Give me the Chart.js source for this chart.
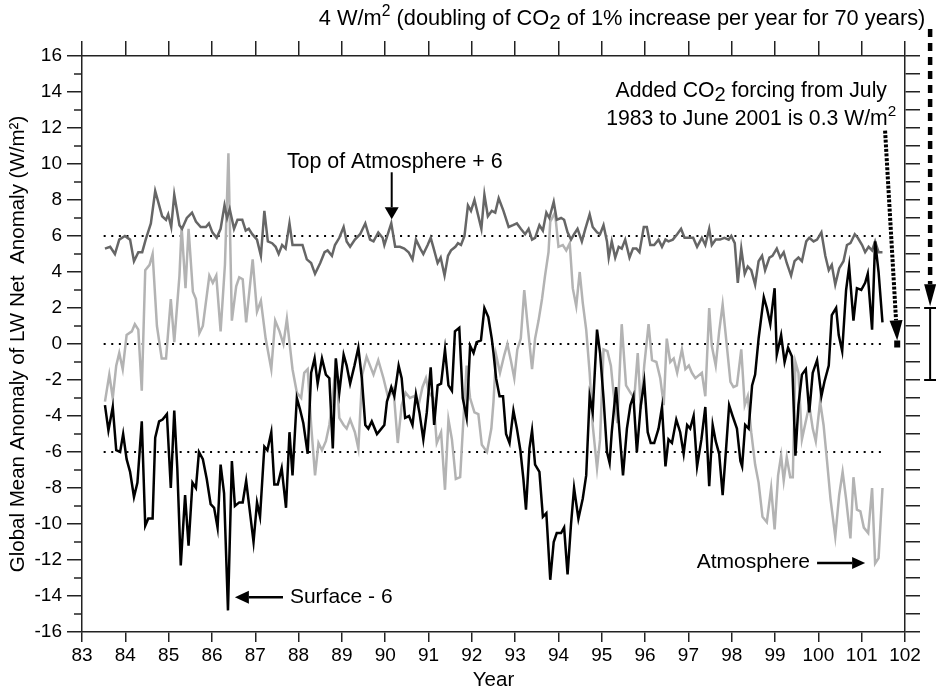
<!DOCTYPE html>
<html>
<head>
<meta charset="utf-8">
<script src="https://cdn.jsdelivr.net/npm/chart.js@4.4.1/dist/chart.umd.min.js"></script>
<style>
  html, body { margin: 0; padding: 0; background: #fff; }
  canvas { display: block; }
</style>
</head>
<body>
<canvas id="grafico" width="936" height="693"></canvas>
<script>
// Top of Atmosphere + 6 (gris oscuro)
const toaAnios = [
  83.53, 83.65, 83.76, 83.86, 83.99, 84.11, 84.20, 84.30, 84.39, 84.47,
  84.59, 84.69, 84.85, 84.94, 84.99, 85.06, 85.13, 85.25, 85.31, 85.42,
  85.54, 85.63, 85.74, 85.86, 85.93, 86.01, 86.11, 86.20, 86.29, 86.35,
  86.41, 86.51, 86.59, 86.70, 86.78, 86.85, 86.93, 87.04, 87.13, 87.21,
  87.29, 87.39, 87.47, 87.54, 87.62, 87.70, 87.79, 87.86, 87.98, 88.09,
  88.19, 88.29, 88.38, 88.50, 88.60, 88.67, 88.77, 88.84, 88.94, 89.04,
  89.11, 89.19, 89.30, 89.42, 89.54, 89.65, 89.73, 89.84, 89.94, 89.98,
  90.06, 90.14, 90.23, 90.34, 90.44, 90.54, 90.63, 90.71, 90.81, 90.88,
  90.98, 91.05, 91.12, 91.21, 91.28, 91.37, 91.45, 91.52, 91.62, 91.68,
  91.75, 91.83, 91.91, 91.98, 92.06, 92.14, 92.22, 92.29, 92.37, 92.46,
  92.54, 92.62, 92.73, 92.85, 92.95, 93.04, 93.13, 93.23, 93.31, 93.39,
  93.46, 93.56, 93.64, 93.72, 93.79, 93.89, 93.96, 94.06, 94.13, 94.21,
  94.29, 94.36, 94.44, 94.54, 94.62, 94.72, 94.79, 94.89, 94.96, 95.04,
  95.12, 95.16, 95.23, 95.31, 95.39, 95.46, 95.54, 95.64, 95.72, 95.80,
  95.87, 95.97, 96.04, 96.12, 96.21, 96.31, 96.39, 96.47, 96.54, 96.64,
  96.74, 96.83, 96.91, 97.01, 97.11, 97.20, 97.31, 97.39, 97.48, 97.54,
  97.63, 97.73, 97.83, 97.93, 97.99, 98.07, 98.14, 98.22, 98.30, 98.37,
  98.45, 98.54, 98.62, 98.70, 98.77, 98.87, 98.94, 99.04, 99.12, 99.20,
  99.27, 99.37, 99.45, 99.54, 99.62, 99.72, 99.79, 99.89, 99.97, 100.07,
  100.16, 100.24, 100.31, 100.39, 100.48, 100.58, 100.66, 100.74, 100.84, 100.91,
  101.01, 101.08, 101.16, 101.24, 101.31, 101.39, 101.48
];
const toaValores = [
  5.3, 5.4, 5.0, 5.8, 6.0, 5.8, 4.6, 5.1, 5.1, 5.8,
  6.7, 8.5, 7.1, 6.9, 7.2, 6.5, 8.3, 6.6, 6.4, 7.0,
  7.3, 6.8, 6.5, 6.5, 6.7, 6.2, 5.9, 6.4, 7.7, 7.0,
  7.5, 6.4, 6.9, 6.9, 6.3, 6.4, 6.1, 5.8, 4.9, 7.4,
  5.7, 5.6, 5.4, 5.0, 5.5, 5.3, 6.7, 5.5, 5.5, 5.5,
  4.7, 4.5, 3.9, 4.5, 5.1, 5.2, 4.9, 5.5, 5.9, 6.5,
  5.7, 5.4, 5.8, 6.1, 6.7, 5.8, 5.7, 6.2, 5.9, 5.5,
  6.1, 6.7, 5.4, 5.4, 5.3, 5.1, 4.7, 5.8, 5.3, 5.0,
  5.5, 5.9, 5.3, 4.5, 4.8, 3.8, 4.9, 5.2, 5.4, 5.6,
  5.5, 6.0, 7.7, 7.4, 8.0, 7.2, 6.4, 8.3, 7.1, 7.4,
  7.3, 8.1, 7.4, 6.5, 6.6, 6.7, 6.4, 6.1, 6.4, 5.8,
  5.9, 6.6, 6.3, 7.3, 7.0, 7.9, 6.9, 7.0, 6.9, 6.2,
  5.8, 6.1, 6.4, 5.7, 6.4, 7.2, 6.5, 6.2, 6.1, 6.6,
  5.7, 4.8, 5.7, 4.8, 5.4, 5.3, 5.8, 4.8, 5.3, 5.3,
  5.1, 6.5, 6.5, 5.5, 5.5, 5.8, 5.4, 5.8, 5.7, 5.8,
  6.1, 6.4, 5.9, 5.9, 5.9, 5.4, 5.9, 5.5, 6.4, 5.5,
  5.8, 5.8, 5.9, 5.8, 6.0, 5.6, 3.4, 5.3, 3.9, 4.3,
  4.1, 3.3, 4.6, 4.9, 4.1, 4.8, 4.9, 5.3, 4.8, 5.1,
  4.5, 3.8, 4.6, 4.8, 4.6, 5.7, 5.9, 5.7, 5.8, 6.2,
  4.9, 4.1, 4.4, 3.3, 4.2, 4.6, 5.5, 5.6, 6.1, 5.9,
  5.5, 5.1, 5.4, 5.2, 5.7, 5.1, 5.1
];

// Atmosphere (gris claro)
const atmAnios = [
  83.53, 83.63, 83.71, 83.79, 83.86, 83.94, 84.03, 84.15, 84.22, 84.30,
  84.38, 84.46, 84.56, 84.63, 84.73, 84.84, 84.94, 85.05, 85.13, 85.25,
  85.30, 85.39, 85.46, 85.56, 85.63, 85.71, 85.79, 85.94, 86.02, 86.10,
  86.20, 86.30, 86.38, 86.46, 86.56, 86.63, 86.71, 86.79, 86.94, 87.04,
  87.13, 87.24, 87.37, 87.46, 87.56, 87.65, 87.73, 87.86, 87.96, 88.06,
  88.13, 88.21, 88.29, 88.38, 88.46, 88.54, 88.63, 88.71, 88.79, 88.86,
  88.94, 89.04, 89.11, 89.19, 89.30, 89.38, 89.47, 89.57, 89.65, 89.73,
  89.84, 89.96, 90.07, 90.19, 90.29, 90.38, 90.47, 90.57, 90.67, 90.77,
  90.86, 90.94, 91.01, 91.11, 91.19, 91.29, 91.38, 91.46, 91.54, 91.63,
  91.73, 91.81, 91.88, 91.96, 92.06, 92.15, 92.23, 92.35, 92.45, 92.50,
  92.56, 92.65, 92.75, 92.82, 92.90, 92.98, 93.05, 93.13, 93.21, 93.29,
  93.39, 93.46, 93.54, 93.62, 93.69, 93.77, 93.81, 93.92, 94.00, 94.10,
  94.18, 94.26, 94.33, 94.41, 94.49, 94.56, 94.64, 94.72, 94.79, 94.89,
  94.96, 95.04, 95.13, 95.21, 95.27, 95.36, 95.46, 95.56, 95.66, 95.75,
  95.83, 95.90, 95.98, 96.08, 96.16, 96.26, 96.35, 96.43, 96.50, 96.58,
  96.66, 96.74, 96.85, 96.93, 97.01, 97.08, 97.16, 97.31, 97.39, 97.48,
  97.54, 97.63, 97.71, 97.79, 97.87, 97.97, 98.04, 98.12, 98.22, 98.30,
  98.37, 98.45, 98.54, 98.62, 98.71, 98.81, 98.91, 98.99, 99.07, 99.14,
  99.20, 99.27, 99.35, 99.41, 99.47, 99.54, 99.62, 99.70, 99.79, 99.87,
  99.94, 100.04, 100.12, 100.20, 100.28, 100.39, 100.48, 100.56, 100.64, 100.74,
  100.81, 100.89, 100.97, 101.05, 101.15, 101.24, 101.31, 101.39, 101.48
];
const atmValores = [
  -3.2, -1.7, -3.0, -1.2, -0.5, -1.4, 0.5, 0.7, 1.1, 0.8,
  -2.6, 4.1, 4.4, 5.0, 1.0, -0.8, -0.8, 2.5, 0.1, 3.8,
  6.5, 3.1, 6.4, 2.9, 2.5, 0.6, 1.0, 3.8, 3.4, 3.8,
  0.7, 4.4, 10.6, 1.3, 3.2, 3.7, 3.6, 1.2, 4.7, 1.8,
  2.4, 0.3, -1.4, 1.3, 0.7, 0.0, 1.4, -1.4, -2.7, -3.0,
  -1.6, -1.4, -4.5, -7.3, -5.5, -5.9, -5.4, -4.5, -3.0, -0.9,
  -4.1, -4.5, -4.7, -4.2, -4.9, -5.8, -1.7, -0.7, -1.2, -1.7,
  -0.9, -1.9, -3.0, -2.5, -5.5, -3.4, -2.7, -3.0, -2.9, -3.4,
  -2.4, -1.9, -2.7, -3.0, -5.5, -4.9, -8.1, -4.2, -5.3, -7.5,
  -7.4, -4.0, -1.2, -3.0, -3.8, -3.9, -5.6, -6.0, -4.7, -3.2,
  -0.6, -1.6, -0.6, 0.0, -0.9, -1.9, -0.3, 0.3, 3.0, 1.0,
  -1.4, 0.3, 1.3, 2.5, 3.8, 5.1, 6.8, 7.3, 5.4, 5.5,
  5.2, 5.6, 3.1, 2.1, 4.0, 2.3, 0.8, -1.6, -4.5, -6.9,
  -5.3, -0.3, -0.4, -1.2, -2.7, -4.4, 1.1, -2.3, -2.7, -3.0,
  -0.5, -3.6, -1.2, 1.1, -0.9, -1.0, -1.9, -3.4, 0.3, -1.0,
  -0.8, -1.6, -0.3, -1.4, -1.2, -1.6, -1.9, -1.6, -2.9, 2.0,
  -0.1, -1.2, 0.7, 2.2, 0.3, -2.1, -2.4, -2.3, -0.3, -3.4,
  -2.9, -4.9, -6.7, -7.7, -9.6, -9.9, -8.0, -10.3, -7.3, -6.2,
  -7.6, -6.3, -7.4, -7.4, -1.0, -1.6, -5.3, -4.4, -3.4, -4.7,
  -5.4, -3.2, -4.5, -6.5, -8.6, -10.7, -8.4, -7.1, -8.6, -10.8,
  -7.4, -9.2, -9.3, -10.2, -10.5, -8.0, -12.2, -11.9, -8.0
];

// Surface - 6 (negro)
const supAnios = [
  83.53, 83.61, 83.71, 83.79, 83.88, 83.95, 84.03, 84.11, 84.20, 84.28,
  84.38, 84.46, 84.53, 84.63, 84.69, 84.78, 84.86, 84.96, 85.05, 85.13,
  85.20, 85.28, 85.38, 85.46, 85.55, 85.63, 85.70, 85.79, 85.88, 85.97,
  86.05, 86.13, 86.20, 86.28, 86.37, 86.46, 86.53, 86.63, 86.71, 86.79,
  86.87, 86.96, 87.04, 87.11, 87.21, 87.28, 87.37, 87.44, 87.52, 87.61,
  87.71, 87.79, 87.86, 87.96, 88.03, 88.11, 88.21, 88.29, 88.37, 88.44,
  88.54, 88.63, 88.71, 88.79, 88.86, 88.94, 89.04, 89.11, 89.19, 89.29,
  89.38, 89.46, 89.54, 89.61, 89.69, 89.81, 89.88, 89.98, 90.04, 90.14,
  90.21, 90.31, 90.38, 90.46, 90.55, 90.63, 90.71, 90.79, 90.88, 90.96,
  91.05, 91.13, 91.21, 91.29, 91.38, 91.46, 91.54, 91.61, 91.71, 91.79,
  91.88, 91.96, 92.04, 92.11, 92.21, 92.29, 92.38, 92.46, 92.50, 92.56,
  92.64, 92.72, 92.79, 92.87, 92.96, 93.04, 93.12, 93.19, 93.25, 93.33,
  93.39, 93.46, 93.56, 93.64, 93.72, 93.81, 93.89, 93.96, 94.06, 94.13,
  94.21, 94.29, 94.36, 94.46, 94.56, 94.64, 94.72, 94.79, 94.89, 94.96,
  95.04, 95.12, 95.18, 95.23, 95.33, 95.41, 95.49, 95.58, 95.66, 95.73,
  95.81, 95.90, 95.98, 96.06, 96.13, 96.21, 96.31, 96.39, 96.47, 96.54,
  96.62, 96.72, 96.81, 96.89, 96.97, 97.04, 97.12, 97.20, 97.30, 97.39,
  97.48, 97.56, 97.63, 97.71, 97.79, 97.87, 97.94, 98.02, 98.12, 98.20,
  98.24, 98.31, 98.39, 98.47, 98.54, 98.62, 98.74, 98.81, 98.89, 98.99,
  99.04, 99.14, 99.22, 99.30, 99.39, 99.47, 99.54, 99.62, 99.71, 99.79,
  99.87, 99.97, 100.07, 100.14, 100.24, 100.31, 100.41, 100.47, 100.55, 100.64,
  100.71, 100.81, 100.89, 100.99, 101.08, 101.14, 101.24, 101.31, 101.39, 101.48
];
const supValores = [
  -3.4, -4.8, -3.5, -5.9, -6.0, -5.0, -6.4, -7.1, -8.5, -7.7,
  -4.3, -10.1, -9.7, -9.7, -5.2, -4.3, -4.2, -3.9, -8.0, -3.7,
  -6.9, -12.3, -8.4, -11.2, -7.7, -8.0, -6.0, -6.4, -7.5, -8.9,
  -9.1, -10.2, -6.7, -8.3, -14.8, -6.5, -9.0, -8.8, -8.8, -7.6,
  -9.2, -11.0, -8.8, -9.6, -5.7, -5.9, -4.9, -7.8, -7.8, -6.9,
  -9.1, -4.9, -7.3, -3.0, -3.6, -4.4, -6.1, -1.6, -0.8, -2.2,
  -0.8, -1.7, -1.9, -5.8, -0.8, -2.7, -0.6, -1.2, -2.2, -1.2,
  -0.2, -1.9, -4.5, -4.7, -4.3, -5.0, -4.8, -4.5, -3.2, -2.4,
  -2.9, -1.2, -1.9, -4.1, -4.0, -4.5, -2.8, -3.8, -5.3, -3.8,
  -1.3, -4.5, -2.3, -2.2, -0.3, -2.3, -2.6, 0.7, 0.9, -3.0,
  -4.1, -0.1, -0.5, 0.1, 0.2, 2.0, 1.5, 0.3, -0.5, -1.9,
  -2.9, -2.9, -5.0, -5.5, -3.7, -4.7, -5.9, -7.5, -9.2, -5.8,
  -4.8, -6.7, -7.1, -9.6, -9.4, -13.1, -11.0, -10.5, -10.5, -10.2,
  -12.8, -10.0, -8.0, -9.7, -8.6, -7.3, -2.9, -3.8, 0.8, -0.5,
  -3.0, -6.0, -6.6, -4.9, -2.4, -4.9, -7.3, -4.7, -3.4, -2.9,
  -6.0, -3.4, -2.1, -4.9, -5.5, -5.5, -4.7, -3.5, -6.8, -5.3,
  -5.5, -4.2, -4.9, -6.1, -4.5, -4.7, -4.0, -6.8, -5.3, -3.5,
  -7.9, -4.5, -5.4, -6.1, -8.4, -5.8, -3.4, -4.0, -4.7, -6.5,
  -6.8, -4.5, -4.7, -2.3, -1.7, 0.3, 2.6, 2.0, 1.1, 3.1,
  -0.6, 0.5, -1.0, -0.2, -0.7, -6.2, -3.4, -1.7, -1.4, -3.8,
  -1.6, -0.9, -2.9, -2.1, -1.2, 1.6, 2.0, 0.5, -0.4, 3.0,
  4.3, 1.3, 3.1, 3.0, 3.4, 3.9, 0.8, 5.7, 4.0, 1.2
];

// Líneas punteadas de referencia
const nivelesRef = [6, 0, -6];
const refInicio = 83.5;
const refFin = 101.45;

const FUENTE = '"Liberation Sans", Arial, Helvetica, sans-serif';

function puntos(xs, ys) {
  return xs.map((x, i) => ({ x: x, y: ys[i] }));
}

function serie(xs, ys, color) {
  return {
    data: puntos(xs, ys),
    borderColor: color,
    borderWidth: 2.5,
    pointRadius: 0,
    tension: 0,
    borderJoinStyle: 'miter'
  };
}

const referencias = nivelesRef.map(v => ({
  data: [{ x: refInicio, y: v }, { x: refFin, y: v }],
  borderColor: '#000',
  borderWidth: 2,
  borderDash: [2, 5.6],
  pointRadius: 0
}));

// texto con partes normales, superíndice y subíndice
function texto(ctx, partes, x, y, align, size) {
  const fuente = modo => {
    const s = modo === 'sup' ? size * 0.72 : modo === 'sub' ? size * 0.95 : size;
    return s + 'px ' + FUENTE;
  };
  let total = 0;
  partes.forEach(p => { ctx.font = fuente(p[1]); total += ctx.measureText(p[0]).width; });
  let cx = align === 'center' ? x - total / 2 : align === 'right' ? x - total : x;
  ctx.textAlign = 'left';
  ctx.textBaseline = 'alphabetic';
  partes.forEach(p => {
    ctx.font = fuente(p[1]);
    const dy = p[1] === 'sup' ? -size * 0.42 : p[1] === 'sub' ? size * 0.18 : 0;
    ctx.fillText(p[0], cx, y + dy);
    cx += ctx.measureText(p[0]).width;
  });
}

function punta(ctx, x1, y1, x2, y2, largo, ancho) {
  const a = Math.atan2(y2 - y1, x2 - x1);
  const bx = x2 - largo * Math.cos(a), by = y2 - largo * Math.sin(a);
  ctx.beginPath();
  ctx.moveTo(x2, y2);
  ctx.lineTo(bx + ancho / 2 * Math.sin(a), by - ancho / 2 * Math.cos(a));
  ctx.lineTo(bx - ancho / 2 * Math.sin(a), by + ancho / 2 * Math.cos(a));
  ctx.closePath();
  ctx.fill();
  return { x: bx, y: by };
}

function flecha(ctx, x1, y1, x2, y2, largo, ancho, grosor) {
  ctx.setLineDash([]);
  const base = punta(ctx, x1, y1, x2, y2, largo, ancho);
  ctx.lineWidth = grosor;
  ctx.beginPath();
  ctx.moveTo(x1, y1);
  ctx.lineTo(base.x, base.y);
  ctx.stroke();
}

const anotaciones = {
  id: 'anotaciones',
  afterDraw(chart) {
    const ctx = chart.ctx;
    const sx = chart.scales.x, sy = chart.scales.y;
    const px = v => sx.getPixelForValue(v);
    const py = v => sy.getPixelForValue(v);
    const area = chart.chartArea;
    ctx.save();
    ctx.fillStyle = '#000';
    ctx.strokeStyle = '#000';

    // ticks menores del eje izquierdo
    ctx.lineWidth = 1.5;
    ctx.strokeStyle = '#222';
    for (let v = -15; v <= 15; v += 2) {
      ctx.beginPath();
      ctx.moveTo(area.left - 8, py(v));
      ctx.lineTo(area.left, py(v));
      ctx.stroke();
    }
    ctx.strokeStyle = '#000';

    // etiquetas
    texto(ctx, [['Top of Atmosphere + 6', '']], px(87.73), py(9.8), 'left', 21.4);
    flecha(ctx, px(90.15), py(9.54), px(90.15), py(6.93), 12, 14, 2);

    texto(ctx, [['Surface - 6', '']], px(87.8), py(-14.4), 'left', 21);
    flecha(ctx, px(87.64), py(-14.07), px(86.53), py(-14.07), 14, 13, 2.5);

    texto(ctx, [['Atmosphere', '']], px(97.19), py(-12.46), 'left', 21);
    flecha(ctx, px(99.97), py(-12.17), px(101.08), py(-12.17), 13, 12, 2.5);

    texto(ctx, [['Added CO', ''], ['2', 'sub'], [' forcing from July', '']], px(98.45), py(13.7), 'center', 21.2);
    texto(ctx, [['1983 to June 2001 is 0.3 W/m', ''], ['2', 'sup']], px(98.45), py(12.15), 'center', 21.2);

    texto(ctx, [['4 W/m', ''], ['2', 'sup'], [' (doubling of CO', ''], ['2', 'sub'],
      [' of 1% increase per year for 70 years)', '']], px(102.47), py(17.7), 'right', 21.8);

    // flecha punteada hacia 0.3 W/m2
    const x1 = px(101.54), y1 = py(11.86), x2 = px(101.82), y2 = py(0.2);
    const base = punta(ctx, x1, y1, x2, y2, 20, 13);
    ctx.lineWidth = 4;
    ctx.setLineDash([3, 1.6]);
    ctx.beginPath();
    ctx.moveTo(x1, y1);
    ctx.lineTo(base.x, base.y);
    ctx.stroke();
    ctx.setLineDash([]);
    ctx.fillRect(x2 - 3, py(0) - 3.5, 6, 7);

    // flecha discontinua de 4 W/m2 y barra de error
    const xb = px(102.58);
    const baseB = punta(ctx, xb, py(17.5), xb, py(2.1), 22, 12);
    ctx.lineWidth = 4.5;
    ctx.setLineDash([8, 6]);
    ctx.beginPath();
    ctx.moveTo(xb, py(17.5));
    ctx.lineTo(xb, baseB.y);
    ctx.stroke();
    ctx.setLineDash([]);
    ctx.lineWidth = 2;
    ctx.beginPath();
    ctx.moveTo(xb, py(2));
    ctx.lineTo(xb, py(-2));
    ctx.moveTo(xb - 6, py(2));
    ctx.lineTo(xb + 6, py(2));
    ctx.moveTo(xb - 6, py(-2));
    ctx.lineTo(xb + 6, py(-2));
    ctx.stroke();

    ctx.restore();
  }
};

const ejeBase = {
  type: 'linear',
  grid: { drawOnChartArea: false, color: '#222', lineWidth: 1.5, tickWidth: 1.5, tickColor: '#222' },
  border: { display: true, color: '#222', width: 1.5 }
};

new Chart(document.getElementById('grafico'), {
  type: 'line',
  data: {
    datasets: [
      serie(supAnios, supValores, '#000000'),
      serie(toaAnios, toaValores, '#666666'),
      serie(atmAnios, atmValores, '#b3b3b3'),
      ...referencias
    ]
  },
  options: {
    responsive: false,
    animation: false,
    devicePixelRatio: 1,
    layout: { padding: 0 },
    plugins: { legend: { display: false }, tooltip: { enabled: false } },
    scales: {
      x: {
        ...ejeBase,
        position: 'bottom',
        min: 83, max: 102,
        grid: { ...ejeBase.grid, tickLength: 10 },
        ticks: { stepSize: 1, color: '#000', font: { family: FUENTE, size: 19 }, padding: 2, maxRotation: 0, autoSkip: false },
        title: { display: true, text: 'Year', color: '#000', font: { family: FUENTE, size: 20.5 }, padding: { top: 0, bottom: 0 } },
        afterFit: s => { s.height = 61; }
      },
      x2: {
        ...ejeBase,
        position: 'top',
        min: 83, max: 102,
        grid: { ...ejeBase.grid, tickLength: 15 },
        ticks: { stepSize: 1, display: false },
        afterFit: s => { s.height = 56; }
      },
      y: {
        ...ejeBase,
        position: 'left',
        min: -16, max: 16,
        grid: { ...ejeBase.grid, tickLength: 15 },
        ticks: { stepSize: 2, color: '#000', font: { family: FUENTE, size: 19 }, padding: 5, callback: v => String(v) },
        title: { display: true, text: 'Global Mean Anomaly of LW Net  Anomaly (W/m²)', color: '#000', font: { family: FUENTE, size: 20.5 }, padding: { top: 6, bottom: 0 } },
        afterFit: s => { s.width = 82; }
      },
      y2: {
        ...ejeBase,
        position: 'right',
        min: -16, max: 16,
        grid: { ...ejeBase.grid, tickLength: 15 },
        ticks: { stepSize: 1, display: false },
        afterFit: s => { s.width = 31; }
      }
    }
  },
  plugins: [anotaciones]
});
</script>
</body>
</html>
